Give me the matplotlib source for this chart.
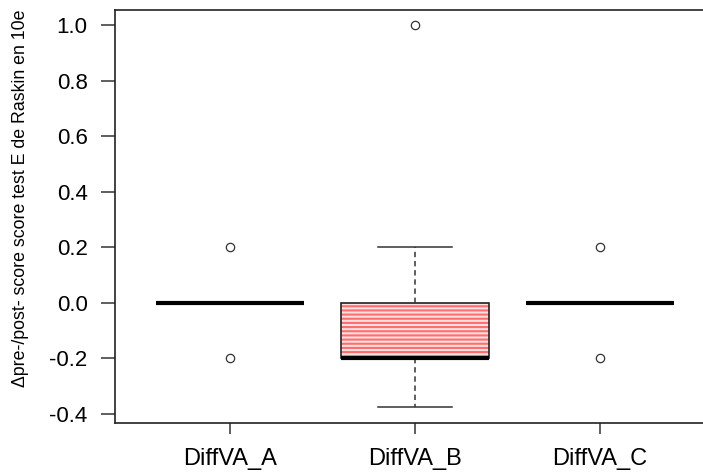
import matplotlib
matplotlib.use("Agg")
import matplotlib.pyplot as plt
from matplotlib.patches import Rectangle
import numpy as np

plt.rcParams['font.family'] = ['Liberation Sans', 'DejaVu Sans']
plt.rcParams['hatch.linewidth'] = 1.5

# summary stats (R boxplot style)
groups = ["DiffVA_A", "DiffVA_B", "DiffVA_C"]
q1 = [0.0, -0.2, 0.0]
med = [0.0, -0.2, 0.0]
q3 = [0.0, 0.0, 0.0]
wlo = [0.0, -0.375, 0.0]
whi = [0.0, 0.2, 0.0]
fliers = [[0.2, -0.2], [1.0], [0.2, -0.2]]
fills = [False, True, False]
positions = [1, 2, 3]
box_w = 0.8

stats = []
for i in range(len(groups)):
    stats.append(dict(label=groups[i], med=med[i], q1=q1[i], q3=q3[i],
                      whislo=wlo[i], whishi=whi[i], fliers=fliers[i]))

fig = plt.figure(figsize=(7.03, 4.75), dpi=100)
ax = fig.add_axes([115.3/703, 1-423/475, (714.7-115.3)/703, (423-10)/475])

# red line shading for the filled box (like R density/col)
for i in range(len(groups)):
    if fills[i]:
        ax.add_patch(Rectangle((positions[i]-box_w/2, q1[i]), box_w, q3[i]-q1[i],
                               facecolor='#ffe0e0', edgecolor='#ff6e6e',
                               linewidth=0, hatch='----', zorder=1))

bp = ax.bxp(stats, positions=positions, widths=box_w, patch_artist=True,
            showcaps=True,
            boxprops=dict(linewidth=1.2, edgecolor='#222222', facecolor='none'),
            medianprops=dict(color='black', linewidth=3, solid_capstyle='butt'),
            whiskerprops=dict(color='#333333', linewidth=1.1, linestyle=(0, (3.5, 2.5))),
            capprops=dict(color='#333333', linewidth=1.1),
            flierprops=dict(marker='o', markersize=6, markerfacecolor='none',
                            markeredgecolor='#333333', markeredgewidth=0.9))
for i in range(len(groups)):
    if not fills[i]:
        bp['boxes'][i].set_visible(False)
        for w in bp['whiskers'][2*i:2*i+2]:
            w.set_visible(False)
        for c in bp['caps'][2*i:2*i+2]:
            c.set_visible(False)

ax.set_xlim(0.38, 3.62)
ax.set_ylim(-0.434, 1.055)
yt = np.arange(-0.4, 1.01, 0.2)
ax.set_yticks(yt)
ax.set_yticklabels(["%.1f" % v for v in yt])
ax.set_xticks(positions)
ax.set_xticklabels(groups)
ax.tick_params(axis='both', width=1.1, color='#333333')
ax.tick_params(axis='y', length=10, pad=10, labelsize=16)
ax.tick_params(axis='x', length=8, pad=10, labelsize=17)
for s in ax.spines.values():
    s.set_linewidth(1.2)
    s.set_color('#222222')
ax.set_ylabel("\u0394pre-/post- score score test E de Raskin en 10e", fontsize=12.8)
ax.yaxis.set_label_coords(-0.144, 0.545)

fig.savefig("out.png", dpi=100)
